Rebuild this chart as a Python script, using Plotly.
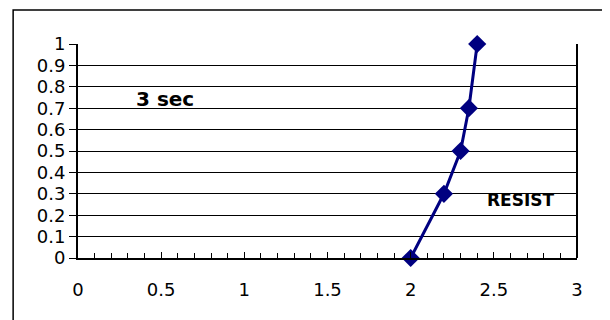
import plotly.graph_objects as go

x_vals = [2.0, 2.2, 2.3, 2.35, 2.4]
y_vals = [0.0, 0.3, 0.5, 0.7, 1.0]
x_ticks = [0, 0.5, 1, 1.5, 2, 2.5, 3]
x_tick_text = ["0", "0.5", "1", "1.5", "2", "2.5", "3"]
y_ticks = [0, 0.1, 0.2, 0.3, 0.4, 0.5, 0.6, 0.7, 0.8, 0.9, 1]
y_tick_text = ["0", "0.1", "0.2", "0.3", "0.4", "0.5", "0.6", "0.7", "0.8", "0.9", "1"]
label_time = "3 sec"
label_series = "RESIST"

fam = "DejaVu Sans, Liberation Sans, Arial, sans-serif"

fig = go.Figure()
fig.add_trace(go.Scatter(
    x=x_vals, y=y_vals, mode="lines+markers",
    line=dict(color="#000080", width=3),
    marker=dict(symbol="diamond", size=14, color="#000080"),
    showlegend=False, cliponaxis=False,
))

fig.update_layout(
    width=602, height=312,
    margin=dict(l=70, r=33, t=36, b=62),
    paper_bgcolor="white", plot_bgcolor="white",
    font=dict(family=fam, size=18, color="black"),
    xaxis=dict(
        range=[0, 3], tickvals=x_ticks, ticktext=x_tick_text,
        showgrid=False, zeroline=False,
        showline=True, linecolor="black", linewidth=2, mirror=False,
        ticks="inside", ticklen=6, tickcolor="black", tickwidth=1,
        minor=dict(dtick=0.1, ticks="inside", ticklen=5, tickcolor="black", tickwidth=1, showgrid=False),
        ticklabelstandoff=14,
        tickfont=dict(family=fam, size=18, color="black"),
        fixedrange=True,
    ),
    yaxis=dict(
        range=[0, 1], tickvals=y_ticks, ticktext=y_tick_text,
        showgrid=True, gridcolor="black", gridwidth=1, zeroline=False,
        showline=True, linecolor="black", linewidth=2,
        ticks="outside", ticklen=7, tickcolor="black", tickwidth=1,
        tickfont=dict(family=fam, size=18, color="black"),
        fixedrange=True,
    ),
    shapes=[
        dict(type="line", xref="paper", yref="paper", x0=1, x1=1, y0=0, y1=1,
             line=dict(color="black", width=2)),
        dict(type="rect", xref="paper", yref="paper",
             x0=-0.130, x1=1.064, y0=-0.35, y1=1.159,
             line=dict(color="black", width=1.5), layer="below"),
    ],
    annotations=[
        dict(text="<b>" + label_time + "</b>", x=0.338, y=0.742, xref="x", yref="y",
             xanchor="left", yanchor="middle", showarrow=False,
             font=dict(family=fam, size=20, color="black")),
        dict(text="<b>" + label_series + "</b>", x=2.447, y=0.27, xref="x", yref="y",
             xanchor="left", yanchor="middle", showarrow=False,
             font=dict(family=fam, size=17, color="black")),
    ],
)

fig.write_html("out.html")
